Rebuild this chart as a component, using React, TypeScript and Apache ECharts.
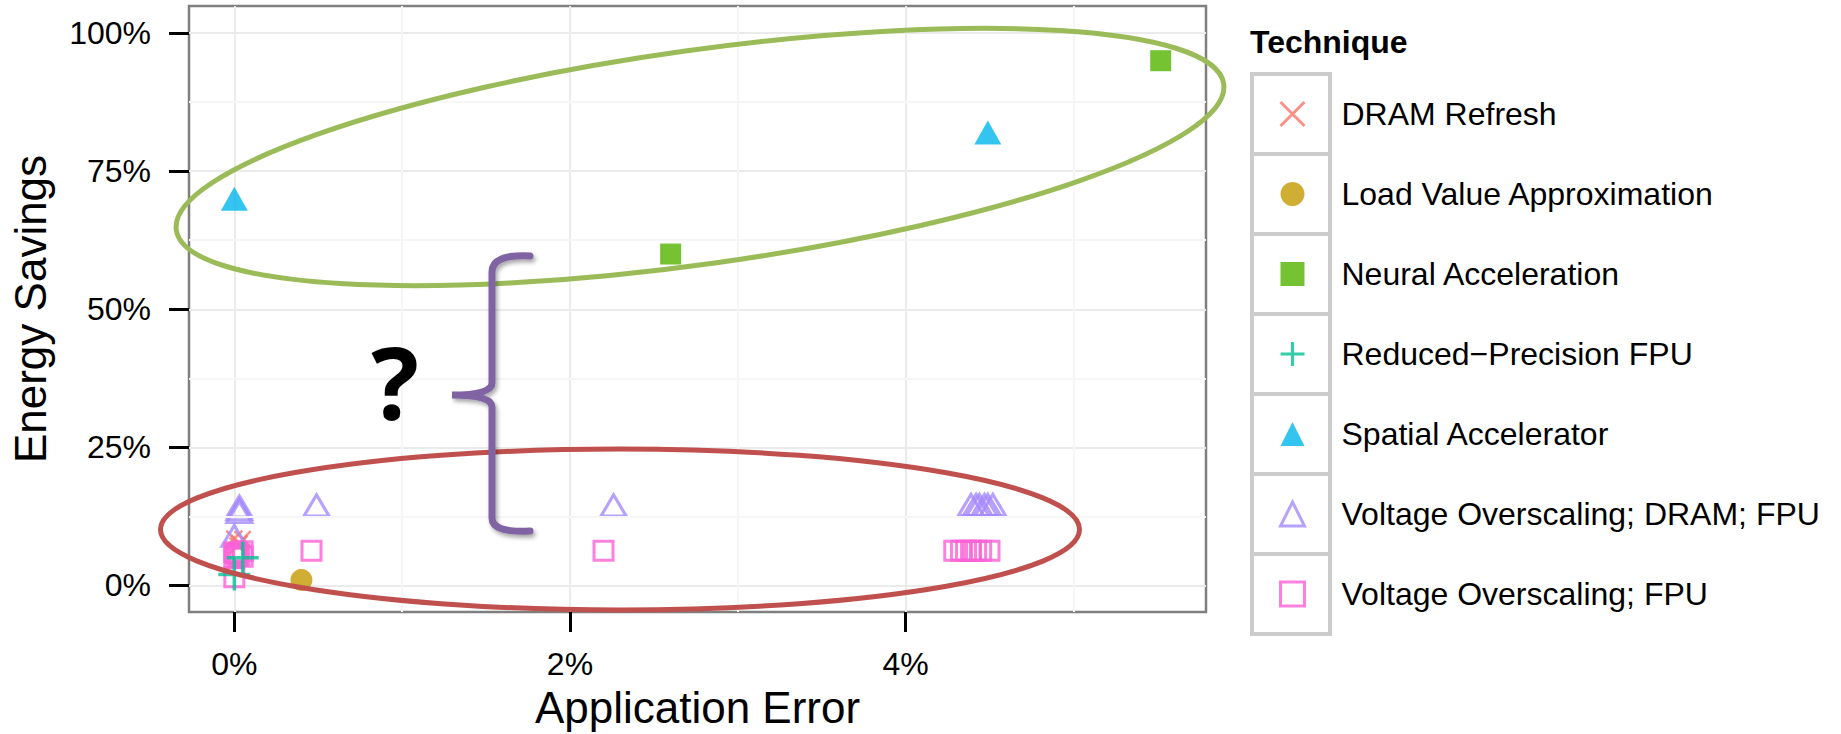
import React, { useEffect, useRef } from 'react';
import * as echarts from 'echarts';

// ---- Axis ticks ----
const X_TICKS = [0, 2, 4];
const Y_TICKS = [0, 25, 50, 75, 100];
const X_MINOR = [1, 3, 5];
const Y_MINOR = [12.5, 37.5, 62.5, 87.5];

// ---- Categories ----
const TECHNIQUES = [
  'DRAM Refresh',
  'Load Value Approximation',
  'Neural Acceleration',
  'Reduced\u2212Precision FPU',
  'Spatial Accelerator',
  'Voltage Overscaling; DRAM; FPU',
  'Voltage Overscaling; FPU',
];

// ---- Series values: [application error %, energy savings %] ----
const dramRefresh = [
  [0.0, 8.5],
  [0.03, 7.6],
  [0.05, 8.4],
  [0.02, 7.2],
];
const loadValueApprox = [[0.4, 1.0]];
const neuralAccel = [
  [2.6, 60],
  [5.52, 95],
];
const reducedPrecision = [
  [0.0, 2.0],
  [0.05, 5.0],
];
const spatialAccel = [
  [0.0, 70],
  [4.49, 82],
];
const voDramFpu = [
  [0.0, 9.0],
  [0.03, 13.3],
  [0.03, 13.8],
  [0.03, 14.3],
  [0.49, 14.5],
  [2.26, 14.5],
  [4.39, 14.6],
  [4.42, 14.6],
  [4.44, 14.6],
  [4.47, 14.6],
  [4.49, 14.6],
  [4.52, 14.6],
];
const voFpu = [
  [0.0, 1.5],
  [0.0, 5.0],
  [0.0, 6.0],
  [0.01, 5.8],
  [0.02, 5.4],
  [0.03, 5.6],
  [0.05, 6.2],
  [0.05, 5.2],
  [0.46, 6.3],
  [2.2, 6.3],
  [4.29, 6.3],
  [4.33, 6.3],
  [4.36, 6.3],
  [4.39, 6.3],
  [4.42, 6.3],
  [4.45, 6.3],
  [4.5, 6.3],
];

const FONT = '"Liberation Sans", Arial, Helvetica, sans-serif';

const braceD =
  'M530,256 Q492,254 492,272 L492,383 Q492,395 452,395 Q492,395 492,407 L492,518 Q492,533 530,531';
echarts.graphic.registerShape('brace', echarts.graphic.extendPath(braceD, {}));

const CROSS = 'path://M0,0L10,10M10,0L0,10';
const PLUS = 'path://M5,0L5,10M0,5L10,5';

function buildOption() {
  const clear = 'rgba(0,0,0,0)';
  const series: any[] = [
    {
      name: 'minorGrid',
      type: 'scatter',
      data: [],
      z: 1,
      silent: true,
      markLine: {
        silent: true,
        symbol: 'none',
        label: { show: false },
        lineStyle: { color: '#F6F6F6', width: 2, type: 'solid' },
        data: [
          ...X_MINOR.map((v) => ({ xAxis: v })),
          ...Y_MINOR.map((v) => ({ yAxis: v })),
        ],
      },
    },
    {
      name: TECHNIQUES[0],
      type: 'scatter',
      data: dramRefresh,
      symbol: CROSS,
      symbolSize: 16,
      itemStyle: { color: clear, borderColor: '#F8766D', borderWidth: 2.5 },
      z: 3,
    },
    {
      name: TECHNIQUES[1],
      type: 'scatter',
      data: loadValueApprox,
      symbol: 'circle',
      symbolSize: 22,
      itemStyle: { color: '#C49A00' },
      z: 3,
    },
    {
      name: TECHNIQUES[2],
      type: 'scatter',
      data: neuralAccel,
      symbol: 'rect',
      symbolSize: 21,
      itemStyle: { color: '#53B400' },
      z: 3,
    },
    {
      name: TECHNIQUES[3],
      type: 'scatter',
      data: reducedPrecision,
      symbol: PLUS,
      symbolSize: 32,
      itemStyle: { color: clear, borderColor: '#00C094', borderWidth: 3.5 },
      z: 4,
    },
    {
      name: TECHNIQUES[4],
      type: 'scatter',
      data: spatialAccel,
      symbol: 'triangle',
      symbolSize: [27, 24],
      itemStyle: { color: '#00B6EB' },
      z: 3,
    },
    {
      name: TECHNIQUES[5],
      type: 'scatter',
      data: voDramFpu,
      symbol: 'triangle',
      symbolSize: [25, 21],
      itemStyle: { color: clear, borderColor: '#A58AFF', borderWidth: 3 },
      z: 3,
    },
    {
      name: TECHNIQUES[6],
      type: 'scatter',
      data: voFpu,
      symbol: 'rect',
      symbolSize: 19,
      itemStyle: { color: clear, borderColor: '#FB61D7', borderWidth: 3 },
      z: 3,
    },
  ];

  const keyRects = TECHNIQUES.map((_, i) => ({
    type: 'rect',
    z: 1,
    shape: { x: 1252, y: 74 + i * 80, width: 78, height: 80 },
    style: { fill: '#ffffff', stroke: '#CCCCCC', lineWidth: 4 },
  }));

  return {
    animation: false,
    backgroundColor: '#ffffff',
    textStyle: { fontFamily: FONT },
    title: {
      text: 'Technique',
      left: 1245,
      top: 21,
      textStyle: { fontSize: 32, fontWeight: 'bold', color: '#000', fontFamily: FONT },
    },
    grid: {
      left: 189,
      top: 6,
      width: 1017,
      height: 609,
      show: true,
      backgroundColor: '#ffffff',
      borderColor: '#7F7F7F',
      borderWidth: 2.5,
    },
    xAxis: {
      type: 'value',
      min: -0.27,
      max: 5.79,
      name: 'Application Error',
      nameLocation: 'middle',
      nameGap: 73,
      nameTextStyle: { fontSize: 44, color: '#000', fontFamily: FONT },
      axisLine: { show: false, onZero: false },
      axisTick: {
        show: true,
        inside: false,
        customValues: X_TICKS,
        length: 20,
        lineStyle: { color: '#000', width: 3 },
      },
      axisLabel: {
        customValues: X_TICKS,
        formatter: (v: number) => `${v}%`,
        fontSize: 32,
        color: '#000',
        margin: 36,
        fontFamily: FONT,
      },
      splitLine: { show: true, lineStyle: { color: '#EBEBEB', width: 2 } },
    },
    yAxis: {
      type: 'value',
      min: -4.8,
      max: 104.9,
      name: 'Energy Savings',
      nameLocation: 'middle',
      nameGap: 137,
      nameTextStyle: { fontSize: 44, color: '#000', fontFamily: FONT },
      axisLine: { show: false, onZero: false },
      axisTick: {
        show: true,
        inside: false,
        customValues: Y_TICKS,
        length: 20,
        lineStyle: { color: '#000', width: 3 },
      },
      axisLabel: {
        customValues: Y_TICKS,
        formatter: (v: number) => `${v}%`,
        fontSize: 32,
        color: '#000',
        margin: 38,
        fontFamily: FONT,
      },
      splitLine: { show: true, lineStyle: { color: '#EBEBEB', width: 2 } },
    },
    legend: {
      orient: 'vertical',
      left: 1279,
      top: 94,
      padding: 0,
      itemWidth: 24,
      itemHeight: 24,
      itemGap: 40,
      selectedMode: false,
      data: TECHNIQUES.map((name, i) => ({
        name,
        itemStyle: i === 0 || i === 3 || i === 5 || i === 6 ? { borderWidth: 3 } : undefined,
      })),
      textStyle: {
        fontSize: 32,
        color: '#000',
        fontFamily: FONT,
        lineHeight: 40,
        padding: [0, 0, 0, 32],
      },
    },
    graphic: [
      ...keyRects,
      {
        type: 'ellipse',
        z: 50,
        x: 700,
        y: 157,
        rotation: 0.138,
        shape: { cx: 0, cy: 0, rx: 529, ry: 107 },
        style: { fill: 'none', stroke: '#9BBB59', lineWidth: 5 },
      },
      {
        type: 'ellipse',
        z: 50,
        x: 620,
        y: 529.5,
        shape: { cx: 0, cy: 0, rx: 459.5, ry: 80.5 },
        style: { fill: 'none', stroke: '#C0504D', lineWidth: 5 },
      },
      {
        type: 'brace',
        z: 50,
        x: 0,
        y: 0,
        style: {
          fill: 'none',
          stroke: '#8064A2',
          lineWidth: 7,
          lineCap: 'round',
          shadowBlur: 4,
          shadowColor: 'rgba(0,0,0,0.35)',
          shadowOffsetX: 2,
          shadowOffsetY: 3,
        },
      },
      {
        type: 'text',
        z: 50,
        x: 395,
        y: 381,
        style: {
          text: '?',
          fontSize: 100,
          fontWeight: 'bold',
          fontFamily: '"Open Sans", "Noto Sans", sans-serif',
          fill: '#000',
          align: 'center',
          verticalAlign: 'middle',
        },
      },
    ],
    series,
  };
}

export default function App() {
  const ref = useRef<HTMLDivElement>(null);
  useEffect(() => {
    document.body.style.margin = '0';
    document.documentElement.style.overflow = 'hidden';
    const chart = echarts.init(ref.current as HTMLDivElement, null, { renderer: 'svg' });
    chart.setOption(buildOption() as any);
    return () => chart.dispose();
  }, []);
  return <div ref={ref} style={{ width: 1841, height: 734 }} />;
}
